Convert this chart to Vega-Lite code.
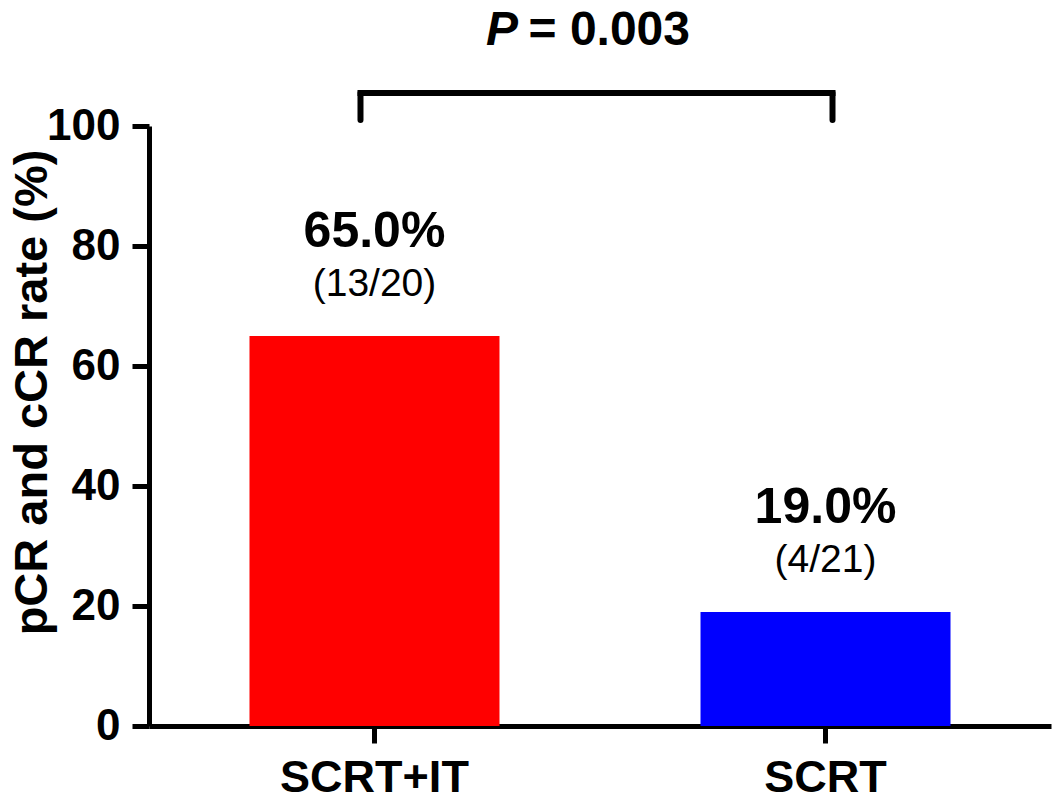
{
  "$schema": "https://vega.github.io/schema/vega-lite/v6.json",
  "width": 902,
  "height": 600,
  "autosize": {"type": "none"},
  "padding": {"left": 149, "top": 126, "right": 3, "bottom": 79},
  "background": "white",
  "config": {
    "view": {"stroke": null},
    "font": "Liberation Sans",
    "axis": {
      "domainColor": "black",
      "domainWidth": 5,
      "tickColor": "black",
      "tickWidth": 5,
      "tickSize": 17,
      "grid": false,
      "labelFont": "Liberation Sans",
      "labelFontWeight": "bold",
      "labelColor": "black",
      "labelLimit": 0,
      "titleFont": "Liberation Sans",
      "titleFontWeight": "bold",
      "titleColor": "black",
      "titleLimit": 0
    }
  },
  "data": {
    "values": [
      {"group": "SCRT+IT", "rate": 65.0, "pct": "65.0%", "frac": "(13/20)"},
      {"group": "SCRT", "rate": 19.0, "pct": "19.0%", "frac": "(4/21)"}
    ]
  },
  "layer": [
    {
      "mark": {"type": "bar"},
      "encoding": {
        "x": {
          "field": "group",
          "type": "nominal",
          "scale": {"domain": ["SCRT+IT", "SCRT"], "paddingInner": 0.4457, "paddingOuter": 0.2228},
          "axis": {"title": null, "labelAngle": 0, "labelFontSize": 45, "labelPadding": 12, "labelLimit": 0}
        },
        "y": {
          "field": "rate",
          "type": "quantitative",
          "scale": {"domain": [0, 100], "nice": false, "zero": true},
          "axis": {
            "values": [0, 20, 40, 60, 80, 100],
            "labelFontSize": 44,
            "labelPadding": 12,
            "title": "pCR and cCR rate (%)",
            "titleFontSize": 47,
            "titleX": -103,
            "titleY": 266,
            "titleBaseline": "alphabetic",
            "titleAngle": -90
          }
        },
        "color": {
          "field": "group",
          "type": "nominal",
          "scale": {"domain": ["SCRT+IT", "SCRT"], "range": ["#ff0000", "#0000ff"]},
          "legend": null
        }
      }
    },
    {
      "mark": {"type": "text", "fontSize": 50, "fontWeight": "bold", "baseline": "alphabetic", "dy": -89, "color": "black"},
      "encoding": {
        "x": {"field": "group", "type": "nominal"},
        "y": {"field": "rate", "type": "quantitative"},
        "text": {"field": "pct"}
      }
    },
    {
      "mark": {"type": "text", "fontSize": 39, "baseline": "alphabetic", "dy": -40, "color": "black"},
      "encoding": {
        "x": {"field": "group", "type": "nominal"},
        "y": {"field": "rate", "type": "quantitative"},
        "text": {"field": "frac"}
      }
    },
    {
      "data": {"values": [{"from": "SCRT+IT", "to": "SCRT", "label": "= 0.003", "p": "P"}]},
      "layer": [
        {
          "mark": {"type": "rule", "strokeWidth": 6, "color": "black", "strokeCap": "square"},
          "encoding": {
            "x": {"field": "from", "type": "nominal", "bandPosition": 0.444},
            "x2": {"field": "to", "bandPosition": 0.528},
            "y": {"datum": 105.5, "type": "quantitative"}
          }
        },
        {
          "mark": {"type": "rule", "strokeWidth": 6, "color": "black", "strokeCap": "round"},
          "encoding": {
            "x": {"field": "from", "type": "nominal", "bandPosition": 0.444},
            "y": {"datum": 105.5, "type": "quantitative"},
            "y2": {"datum": 101}
          }
        },
        {
          "mark": {"type": "rule", "strokeWidth": 6, "color": "black", "strokeCap": "round"},
          "encoding": {
            "x": {"field": "to", "type": "nominal", "bandPosition": 0.528},
            "y": {"datum": 105.5, "type": "quantitative"},
            "y2": {"datum": 101}
          }
        },
        {
          "mark": {"type": "text", "fontSize": 48, "fontWeight": "bold", "fontStyle": "italic", "align": "left", "baseline": "alphabetic", "dx": -114, "dy": -81, "color": "black"},
          "encoding": {
            "y": {"datum": 100, "type": "quantitative"},
            "text": {"field": "p"}
          }
        },
        {
          "mark": {"type": "text", "fontSize": 48, "fontWeight": "bold", "align": "right", "baseline": "alphabetic", "dx": 90, "dy": -81, "color": "black"},
          "encoding": {
            "y": {"datum": 100, "type": "quantitative"},
            "text": {"field": "label"}
          }
        }
      ]
    }
  ]
}
